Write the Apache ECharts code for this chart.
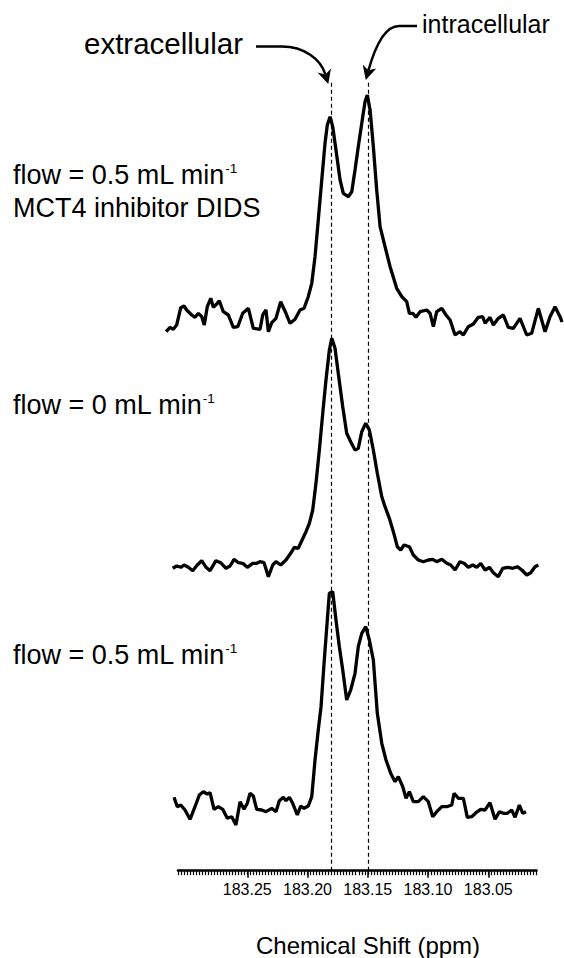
<!DOCTYPE html>
<html>
<head>
<meta charset="utf-8">
<script src="https://cdn.jsdelivr.net/npm/echarts@6/dist/echarts.min.js"></script>
<style>
  html, body { margin: 0; padding: 0; background: #fff; }
  #chart { width: 564px; height: 958px; }
</style>
</head>
<body>
<div id="chart"></div>
<script>
// 13C spectra of lactate: chemical shift (ppm) and intensity (a.u.) per acquisition
const topShift = [183.3174,183.3141,183.3114,183.3086,183.3052,183.3025,183.3003,183.2961,183.2934,183.2906,
  183.2878,183.2857,183.2832,183.2803,183.2782,183.2754,183.2732,183.2699,183.2657,183.2616,
  183.2579,183.2538,183.2491,183.2450,183.2394,183.2372,183.2345,183.2325,183.2297,183.2262,
  183.2223,183.2179,183.2145,183.2104,183.2062,183.2029,183.1994,183.1965,183.1938,183.1911,
  183.1882,183.1855,183.1836,183.1813,183.1791,183.1764,183.1730,183.1703,183.1662,183.1633,
  183.1606,183.1579,183.1550,183.1523,183.1504,183.1481,183.1454,183.1426,183.1398,183.1357,
  183.1315,183.1260,183.1218,183.1177,183.1155,183.1127,183.1100,183.1066,183.1011,183.0983,
  183.0956,183.0928,183.0886,183.0851,183.0817,183.0776,183.0735,183.0707,183.0666,183.0624,
  183.0583,183.0546,183.0527,183.0486,183.0458,183.0417,183.0375,183.0334,183.0292,183.0237,
  183.0181,183.0140,183.0085,183.0029,182.9988,182.9946,182.9905,182.9888];
const topIntensity = [-11.7,-7.3,-9.3,-5,12.3,14,10,5,2.7,6.7,
  3.3,-5,13.3,21.7,12.7,16,19.3,8.3,5,-7.3,
  -6.7,6.7,11.7,-8.3,-9.3,5,10,-11.7,-2.7,1.7,
  18.3,6.7,-3.3,0.7,10,11.7,23.3,36.7,63.3,100,
  140,176.7,195,203.3,193.3,170,140,126.7,123.3,128.3,
  150,173.3,196.7,218.3,225,210,173.3,130,93.3,73.3,
  53.3,31.7,23.3,18.3,6.7,6.7,2.7,8.3,10,6.7,
  -6.7,8.3,11.7,5,0,-15,-11.7,-15,-6.7,-4,
  2.7,3.3,-3.3,2.7,-5,1.7,5,-7.3,-8.3,1.7,
  -15,-13.3,11.7,-11.7,3.3,13.3,3.3,-2];

const midShift = [183.3119,183.3086,183.3052,183.3025,183.2989,183.2953,183.2915,183.2878,183.2842,183.2809,
  183.2760,183.2721,183.2677,183.2643,183.2610,183.2574,183.2538,183.2500,183.2455,183.2422,
  183.2394,183.2361,183.2325,183.2289,183.2262,183.2223,183.2179,183.2140,183.2110,183.2077,
  183.2048,183.2013,183.1985,183.1957,183.1930,183.1902,183.1874,183.1847,183.1819,183.1799,
  183.1772,183.1745,183.1708,183.1675,183.1642,183.1606,183.1579,183.1550,183.1517,183.1487,
  183.1454,183.1421,183.1384,183.1357,183.1321,183.1288,183.1255,183.1227,183.1199,183.1155,
  183.1122,183.1081,183.1039,183.0998,183.0961,183.0928,183.0886,183.0845,183.0812,183.0776,
  183.0735,183.0701,183.0666,183.0629,183.0596,183.0563,183.0527,183.0491,183.0458,183.0417,
  183.0380,183.0342,183.0297,183.0259,183.0222,183.0181,183.0148,183.0112,183.0085];
const midIntensity = [-3.3,-1,-2.3,0,-2.3,-5.7,0,4.3,-2.3,-5.7,
  4.3,2.3,-3.3,-1,5.7,2.3,1.7,-2.3,1.7,1.7,
  3.3,2.3,-11.7,0,3.3,0,5,11.7,17.7,16.7,
  24.3,33.3,41.7,55,81.7,115,151.7,185,215,226.7,
  216.7,191.7,158.3,131.7,123.3,115,116.7,133.3,141.7,135,
  115,91.7,68.3,58.3,46.7,33.3,18.3,15,20,18.3,
  10,5,3.3,5,5.7,3.3,5.7,1.7,0,-5,
  3.3,1.7,-2.3,0,-2.3,1.7,-5,-2.3,-7.7,-11.7,
  -3.3,-2.3,-3.3,-1.7,-5,-10,-7.7,-1.7,0];

const lowShift = [183.3108,183.3081,183.3052,183.3017,183.2975,183.2934,183.2898,183.2865,183.2832,183.2809,
  183.2776,183.2740,183.2704,183.2666,183.2629,183.2594,183.2560,183.2527,183.2500,183.2477,
  183.2450,183.2422,183.2380,183.2345,183.2297,183.2262,183.2234,183.2201,183.2179,183.2151,
  183.2123,183.2085,183.2057,183.2029,183.1994,183.1965,183.1938,183.1911,183.1888,183.1863,
  183.1836,183.1819,183.1791,183.1764,183.1736,183.1708,183.1675,183.1642,183.1606,183.1579,
  183.1550,183.1517,183.1487,183.1454,183.1421,183.1384,183.1349,183.1310,183.1274,183.1247,
  183.1210,183.1183,183.1155,183.1122,183.1081,183.1039,183.0998,183.0961,183.0928,183.0886,
  183.0845,183.0803,183.0784,183.0749,183.0707,183.0674,183.0638,183.0602,183.0563,183.0527,
  183.0486,183.0444,183.0408,183.0375,183.0342,183.0306,183.0278,183.0242,183.0214,183.0187];
const lowIntensity = [10.7,1.3,3,-2,-11.3,1.3,13,16.3,14,15.3,
  -1.3,1.3,-1.3,-10.3,-8.7,-17,6.3,-1.3,4.7,14.7,
  12,-1.3,-2,-3.7,-0.3,-3.7,7.3,10.7,7.3,10.7,
  4.7,-7,2,-0.3,2,11.3,48,78,101.3,144.7,
  188,214.7,216.3,188,161.3,138,108,118,134.7,161.3,
  174.7,181.3,168,148,94.7,64.7,48,34.7,26.3,31.3,
  21.3,9.7,16.3,6.3,6.3,11.3,6.3,-8.7,-3.7,1.3,
  1.3,3,14.7,9.7,9.7,-9.3,-8.7,-4.7,-1.3,-2,
  5.3,-11.3,-3.7,-5.3,-5.3,-2,-9.3,3,-5.3,-3.7];

// Labelled ticks of the shift axis and the two lactate resonances (ppm)
const tickLabels = [183.25, 183.20, 183.15, 183.10, 183.05];
const peakShifts = [183.1828, 183.1517];
const peakNames = ['extracellular', 'intracellular'];
const spectrumLabels = [
  ['flow = 0.5 mL min{sup|-1}', 'MCT4 inhibitor DIDS'],
  ['flow = 0 mL min{sup|-1}'],
  ['flow = 0.5 mL min{sup|-1}']
];
const axisTitle = 'Chemical Shift (ppm)';

const FONT = '"Liberation Sans", Arial, Helvetica, sans-serif';

// Visible shift axis
const shiftMax = 183.3075, shiftMin = 183.01;
const axisLeft = 178, axisWidth = 358.5, axisTop = 82, axisBottomY = 870.7;
const pxPerPpm = axisWidth / (shiftMax - shiftMin);

// Spectrum panels are wider than the axis, with the same ppm scale
const panelLeft = 160, panelWidth = 404;
const panelMax = shiftMax + (axisLeft - panelLeft) / pxPerPpm;
const panelMin = shiftMin - (panelLeft + panelWidth - axisLeft - axisWidth) / pxPerPpm;
const panelTops = [80, 325, 568];
const intensityMin = -30, intensityMax = 240;

// Minor ticks every 0.0025 ppm along the axis
const minorTicks = [];
for (let k = 0; k <= Math.round((shiftMax - shiftMin) / 0.0025); k++) {
  minorTicks.push(+(shiftMin + k * 0.0025).toFixed(4));
}

const pairs = (xs, ys) => xs.map((x, i) => [x, ys[i]]);
const spectra = [pairs(topShift, topIntensity), pairs(midShift, midIntensity), pairs(lowShift, lowIntensity)];

const chart = echarts.init(document.getElementById('chart'), null, { renderer: 'svg', width: 564, height: 958 });

const grids = panelTops.map(t => ({ left: panelLeft, width: panelWidth, top: t, height: intensityMax - intensityMin }));
grids.push({ left: axisLeft, width: axisWidth, top: axisTop, height: axisBottomY - axisTop });

const xAxes = panelTops.map((t, i) => ({
  type: 'value', gridIndex: i, min: panelMin, max: panelMax, inverse: true, show: false
}));
xAxes.push({
  type: 'value', gridIndex: 3, min: shiftMin, max: shiftMax, inverse: true, position: 'bottom',
  axisLine: { show: true, onZero: false, lineStyle: { color: '#000', width: 2.6 } },
  axisTick: { show: true, customValues: minorTicks, length: 4.5, lineStyle: { color: '#000', width: 1.2 } },
  axisLabel: { show: false },
  splitLine: { show: false }
});
xAxes.push({
  type: 'value', gridIndex: 3, min: shiftMin, max: shiftMax, inverse: true, position: 'bottom',
  axisLine: { show: false, onZero: false },
  axisTick: { show: true, customValues: tickLabels, length: 7, lineStyle: { color: '#000', width: 1.5 } },
  axisLabel: {
    show: true, customValues: tickLabels, formatter: v => v.toFixed(2),
    margin: 11, fontSize: 16, color: '#000', fontFamily: FONT
  },
  splitLine: { show: false }
});

const yAxes = panelTops.map((t, i) => ({
  type: 'value', gridIndex: i, min: intensityMin, max: intensityMax, show: false
}));
yAxes.push({ type: 'value', gridIndex: 3, min: 0, max: 1, show: false });

const series = spectra.map((d, i) => ({
  type: 'line', xAxisIndex: i, yAxisIndex: i, data: d,
  symbol: 'none', showSymbol: false, silent: true, clip: false,
  lineStyle: { color: '#000', width: 3.3 }
}));
series.push({
  type: 'line', xAxisIndex: 3, yAxisIndex: 3, data: [], silent: true,
  markLine: {
    silent: true, symbol: ['none', 'none'], label: { show: false },
    lineStyle: { color: '#000', width: 1.2, type: [4, 3] },
    emphasis: { disabled: true },
    data: peakShifts.map(v => ({ xAxis: v }))
  }
});

chart.setOption({
  animation: false,
  backgroundColor: '#fff',
  grid: grids,
  xAxis: xAxes,
  yAxis: yAxes,
  series: series
});

// Annotations: curved arrows pointing at both resonances, and panel labels
const ex = chart.convertToPixel({ xAxisIndex: 3 }, peakShifts[0]);
const ix = chart.convertToPixel({ xAxisIndex: 3 }, peakShifts[1]);

function arrow(start, bend, c1, tip, dir) {
  const n = Math.hypot(dir[0], dir[1]);
  const d = [dir[0] / n, dir[1] / n];
  const p = [-d[1], d[0]];
  const L = 14, H = 7, N = 10;
  const end = [tip[0] - d[0] * N, tip[1] - d[1] * N];
  const c2 = [end[0] - d[0] * 16, end[1] - d[1] * 16];
  const back = [tip[0] - d[0] * L, tip[1] - d[1] * L];
  const stroke = { stroke: '#000', lineWidth: 2.5, fill: 'none' };
  return [
    {
      type: 'line', silent: true,
      shape: { x1: start[0], y1: start[1], x2: bend[0], y2: bend[1] },
      style: stroke
    },
    {
      type: 'bezierCurve', silent: true,
      shape: {
        x1: bend[0], y1: bend[1], cpx1: c1[0], cpy1: c1[1],
        cpx2: c2[0], cpy2: c2[1], x2: end[0], y2: end[1]
      },
      style: stroke
    },
    {
      type: 'polygon', silent: true,
      shape: { points: [tip, [back[0] + p[0] * H, back[1] + p[1] * H], end, [back[0] - p[0] * H, back[1] - p[1] * H]] },
      style: { fill: '#000' }
    }
  ];
}

function label(text, x, y, size) {
  return {
    type: 'text', x: x, y: y, silent: true,
    style: {
      text: text, fill: '#000', fontSize: size, fontFamily: FONT,
      align: 'left', verticalAlign: 'middle', textAlign: 'left', textVerticalAlign: 'middle',
      rich: { sup: { fontSize: 13.5, fontFamily: FONT, fill: '#000', verticalAlign: 'top' } }
    }
  };
}

const labelY = [[175, 208], [404.5], [655]];
const graphics = [
  label(peakNames[0], 84, 43.5, 29.5),
  label(peakNames[1], 422, 24, 25),
  ...arrow([256, 46.5], [282, 46.5], [304, 46.5], [ex, 84], [0.3, 1]),
  ...arrow([417, 26], [399, 26], [382, 26], [ix, 80], [-0.28, 1]),
  label(axisTitle, 256, 945, 24)
];
spectrumLabels.forEach((lines, i) => {
  lines.forEach((t, j) => graphics.push(label(t, 13, labelY[i][j], 27)));
});

chart.setOption({ graphic: graphics });
</script>
</body>
</html>
